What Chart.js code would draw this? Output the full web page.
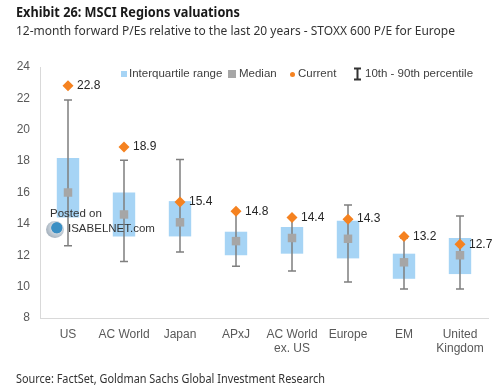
<!DOCTYPE html>
<html>
<head>
<meta charset="utf-8">
<script src="https://cdn.jsdelivr.net/npm/chart.js@4.4.0/dist/chart.umd.min.js"></script>
<style>
  body { margin: 0; background: #fff; }
  #wrap { position: relative; width: 500px; height: 385px; overflow: hidden; font-family: "Liberation Sans", Arial, sans-serif; }
  #wrap canvas { position: absolute; left: 0; top: 0; }
  .txt { position: absolute; white-space: nowrap; transform-origin: left center; }
  #title { left: 16px; top: 1px; font: bold 15px "Noto Sans", sans-serif; color: #1a1a1a; }
  #subtitle { left: 16px; top: 21px; font: 13px "Noto Sans", sans-serif; color: #333; }
  #source { left: 16px; top: 369px; font: 13px "Noto Sans", sans-serif; color: #333; }
  .leg { position: absolute; top: 67px; font-size: 11.5px; color: #404040; white-space: nowrap; }
  .mk { position: absolute; }
  #wm1 { left: 50px; top: 207px; font-size: 11.5px; color: #333; }
  #wm2 { left: 68px; top: 222px; font-size: 11.5px; color: #333; }
  #logo { position: absolute; left: 46px; top: 221px; width: 18px; height: 17px; border-radius: 50%;
          background: radial-gradient(circle at 60% 40%, #3a8fc4 0 35%, #c9d3dc 40%, #8a98a6 100%); }
</style>
</head>
<body>
<div id="wrap">
  <canvas id="chart" width="500" height="385"></canvas>
  <div class="txt" id="title" data-w="224">Exhibit 26: MSCI Regions valuations</div>
  <div class="txt" id="subtitle" data-w="439">12-month forward P/Es relative to the last 20 years - STOXX 600 P/E for Europe</div>
  <div class="txt" id="source" data-w="309">Source: FactSet, Goldman Sachs Global Investment Research</div>

  <div class="mk" style="left:121px;top:71px;width:6px;height:6px;background:#a6d4f5"></div>
  <div class="leg" style="left:129px">Interquartile range</div>
  <div class="mk" style="left:228px;top:70px;width:8px;height:8px;background:#a6a6a6"></div>
  <div class="leg" style="left:239px">Median</div>
  <div class="mk" style="left:290px;top:72px;width:5px;height:5px;border-radius:50%;background:#f58220"></div>
  <div class="leg" style="left:298px">Current</div>
  <svg class="mk" style="left:353px;top:67px" width="9" height="14">
    <path d="M1 1.5H8M4.5 1.5V12.5M1 12.5H8" stroke="#333" stroke-width="2" fill="none"/>
  </svg>
  <div class="leg" style="left:365px">10th - 90th percentile</div>

  <div id="logo"></div>
  <div class="txt" id="wm1">Posted on</div>
  <div class="txt" id="wm2">ISABELNET.com</div>
</div>
<script>
const categories = ['US', 'AC World', 'Japan', 'APxJ', ['AC World', 'ex. US'], 'Europe', 'EM', ['United', 'Kingdom']];
const iqrLow  = [14.4, 13.2, 13.2, 12.0, 12.1, 11.8, 10.5, 10.8];
const iqrHigh = [18.2, 16.0, 15.45, 13.5, 13.8, 14.2, 12.1, 13.1];
const median  = [16.0, 14.6, 14.1, 12.9, 13.1, 13.05, 11.55, 12.0];
const current = [22.8, 18.9, 15.4, 14.8, 14.4, 14.3, 13.2, 12.7];
const p10     = [12.6, 11.6, 12.2, 11.3, 11.0, 10.3, 9.85, 9.85];
const p90     = [21.9, 18.05, 18.1, 14.8, 14.4, 15.2, 13.1, 14.5];

// squeeze header text to the reference widths
document.querySelectorAll('.txt[data-w]').forEach(el => {
    const w = el.getBoundingClientRect().width;
    el.style.transform = 'scaleX(' + (+el.dataset.w / w) + ')';
});

const whiskers = {
    id: 'whiskers',
    afterDatasetDraw(chart, args) {
        if (args.index !== 0) return;
        const ctx = chart.ctx;
        const x = chart.scales.x, y = chart.scales.y;
        ctx.save();
        ctx.strokeStyle = '#7f7f7f';
        ctx.lineWidth = 1.5;
        for (let i = 0; i < categories.length; i++) {
            const px = x.getPixelForValue(i);
            const top = y.getPixelForValue(p90[i]);
            const bot = y.getPixelForValue(p10[i]);
            ctx.beginPath();
            ctx.moveTo(px, top); ctx.lineTo(px, bot);
            ctx.moveTo(px - 4, top); ctx.lineTo(px + 4, top);
            ctx.moveTo(px - 4, bot); ctx.lineTo(px + 4, bot);
            ctx.stroke();
        }
        ctx.restore();
    }
};

const currentLabels = {
    id: 'currentLabels',
    afterDatasetsDraw(chart) {
        const ctx = chart.ctx;
        const meta = chart.getDatasetMeta(2);
        ctx.save();
        ctx.font = '12px "Liberation Sans", Arial, sans-serif';
        ctx.fillStyle = '#262626';
        ctx.textBaseline = 'middle';
        meta.data.forEach((pt, i) => {
            ctx.fillText(current[i].toFixed(1), pt.x + 9, pt.y);
        });
        ctx.restore();
    }
};

new Chart(document.getElementById('chart'), {
    type: 'bar',
    data: {
        labels: categories,
        datasets: [{
            label: 'Interquartile range',
            data: iqrLow.map((v, i) => [v, iqrHigh[i]]),
            backgroundColor: '#a6d4f5',
            categoryPercentage: 1,
            barPercentage: 0.4,
            order: 3
        }, {
            type: 'line',
            label: 'Median',
            data: median,
            showLine: false,
            pointStyle: 'rect',
            pointRadius: 6,
            pointBackgroundColor: '#a6a6a6',
            pointBorderWidth: 0,
            order: 1
        }, {
            type: 'line',
            label: 'Current',
            data: current,
            showLine: false,
            pointStyle: 'rectRot',
            pointRadius: 5.5,
            pointBackgroundColor: '#f58220',
            pointBorderWidth: 0,
            order: 0
        }]
    },
    options: {
        responsive: false,
        animation: false,
        layout: { padding: { top: 67, right: 12, left: 0, bottom: 0 } },
        plugins: { legend: { display: false }, tooltip: { enabled: false } },
        scales: {
            x: {
                grid: { display: false, drawTicks: false },
                border: { display: true, color: '#d9d9d9' },
                ticks: { color: '#595959', font: { size: 12, family: '"Liberation Sans", Arial' }, padding: 9, maxRotation: 0 },
                afterFit(scale) { scale.height = 67; }
            },
            y: {
                min: 8,
                max: 24,
                grid: { display: false, drawTicks: false },
                border: { display: true, color: '#d9d9d9' },
                ticks: { stepSize: 2, color: '#595959', font: { size: 12, family: '"Liberation Sans", Arial' }, padding: 10 },
                afterFit(scale) { scale.width = 40; }
            }
        }
    },
    plugins: [whiskers, currentLabels]
});
</script>
</body>
</html>
